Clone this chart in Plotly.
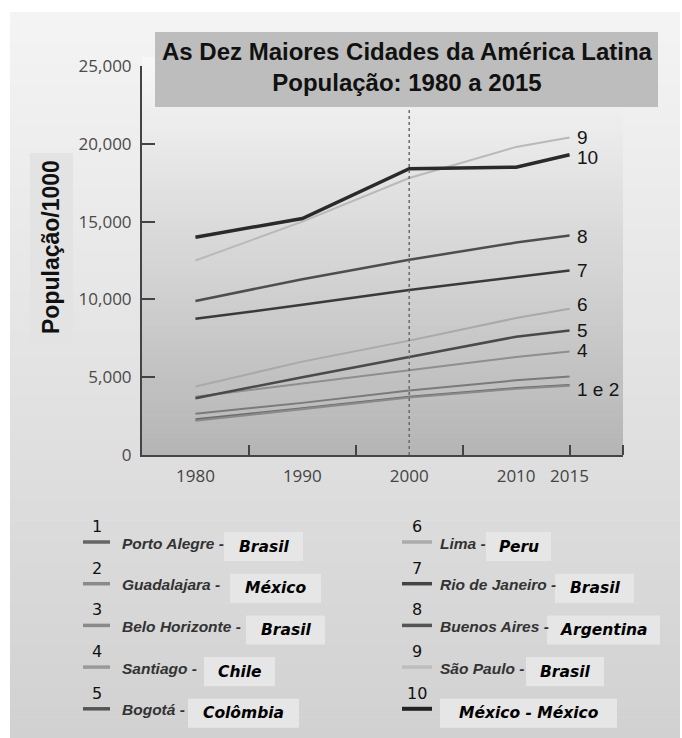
import plotly.graph_objects as go

# ---- data -------------------------------------------------------------
years = [1980, 1990, 2000, 2010, 2015]

porto_alegre   = [2300, 3000, 3750, 4300, 4500]
guadalajara    = [2200, 2950, 3700, 4250, 4450]
belo_horizonte = [2650, 3350, 4150, 4800, 5050]
santiago       = [3750, 4600, 5450, 6300, 6650]
bogota         = [3650, 5000, 6300, 7600, 8000]
lima           = [4400, 6000, 7350, 8800, 9400]
rio_de_janeiro = [8750, 9650, 10600, 11450, 11850]
buenos_aires   = [9900, 11300, 12550, 13650, 14100]
sao_paulo      = [12500, 15000, 17800, 19800, 20400]
cidade_mexico  = [14000, 15200, 18400, 18500, 19300]

cities = ["Porto Alegre", "Guadalajara", "Belo Horizonte", "Santiago", "Bogotá",
          "Lima", "Rio de Janeiro", "Buenos Aires", "São Paulo", "México"]
countries = ["Brasil", "México", "Brasil", "Chile", "Colômbia",
             "Peru", "Brasil", "Argentina", "Brasil", "México"]
series = [porto_alegre, guadalajara, belo_horizonte, santiago, bogota,
          lima, rio_de_janeiro, buenos_aires, sao_paulo, cidade_mexico]

x_labels = [1980, 1990, 2000, 2010, 2015]
x_ticks = [1985, 1995, 2005, 2015, 2020]
y_ticks = [0, 5000, 10000, 15000, 20000, 25000]

end_labels = ["9", "10", "8", "7", "6", "5", "4", "1 e 2"]
end_label_series = [8, 9, 7, 6, 5, 4, 3, 0]

# ---- styling ----------------------------------------------------------
line_colors = ["#6c6c6c", "#8a8a8a", "#7a7a7a", "#8e8e8e", "#4a4a4a",
               "#a9a9a9", "#3a3a3a", "#4e4e4e", "#b9b9b9", "#2a2a2a"]
line_widths = [2, 2, 2, 2, 2.5, 2, 2.5, 2.5, 2, 3.5]
key_colors = ["#666666", "#8a8a8a", "#8a8a8a", "#9a9a9a", "#555555",
              "#ababab", "#444444", "#555555", "#bdbdbd", "#222222"]
end_label_yshift = [0, -3, -1, 0, 4, 0, 1, -5]

# plot-area pixel frame
L, R, T, B = 142, 623, 66, 455
W, H = 682, 738


def fx(px):
    return (px - L) / (R - L)


def fy(py):
    return (B - py) / (B - T)


def hexmix(c0, c1, t):
    a = [int(c0[i:i + 2], 16) for i in (1, 3, 5)]
    b = [int(c1[i:i + 2], 16) for i in (1, 3, 5)]
    return "#" + "".join(f"{round(a[k] + (b[k] - a[k]) * t):02x}" for k in range(3))


def vgradient(x0, x1, y0, y1, ctop, cbot, n=60):
    out = []
    h = (y1 - y0) / n
    for i in range(n):
        out.append(dict(type="rect", xref="paper", yref="paper", layer="below",
                        x0=fx(x0), x1=fx(x1),
                        y0=fy(y0 + i * h), y1=fy(min(y1, y0 + (i + 1) * h + 0.6)),
                        fillcolor=hexmix(ctop, cbot, i / (n - 1)),
                        line=dict(width=0)))
    return out


fig = go.Figure()

for i, vals in enumerate(series):
    fig.add_trace(go.Scatter(x=years, y=vals, mode="lines", name=cities[i],
                             line=dict(color=line_colors[i], width=line_widths[i]),
                             showlegend=False, hoverinfo="x+y+name"))

shapes = []
# outer panel and plot-area backgrounds
shapes += vgradient(10, 680, 12, 738, "#f4f4f4", "#d1d1d1", 70)
shapes += vgradient(L, R, 57, B, "#f7f7f7", "#b5b5b5", 70)

# 2000 reference line
shapes.append(dict(type="line", xref="x", yref="paper", x0=2000, x1=2000,
                   y0=0, y1=1, line=dict(color="#6a6a6a", width=1.5, dash="dot")))

# title box
shapes.append(dict(type="rect", xref="paper", yref="paper", layer="above",
                   x0=fx(155), x1=fx(658), y0=fy(107), y1=fy(32),
                   fillcolor="#bdbdbd", line=dict(width=0)))
# y-title box
shapes.append(dict(type="rect", xref="paper", yref="paper", layer="below",
                   x0=fx(30), x1=fx(73), y0=fy(343), y1=fy(153),
                   fillcolor="#e3e3e3", line=dict(width=0)))

annotations = [
    dict(text="<b>As Dez Maiores Cidades da América Latina<br>População: 1980 a 2015</b>",
         xref="paper", yref="paper", x=fx(407), y=fy(67), showarrow=False,
         xanchor="center", yanchor="middle", align="center",
         font=dict(family="Liberation Sans Narrow, Liberation Sans, Arial", size=24, color="#111111")),
    dict(text="<b>População/1000</b>", xref="paper", yref="paper",
         x=fx(51), y=fy(247), showarrow=False, textangle=-90,
         xanchor="center", yanchor="middle",
         font=dict(family="Liberation Sans Narrow, Liberation Sans, Arial", size=23, color="#111111")),
]

# labels at the end of each line
for lab, si, dy in zip(end_labels, end_label_series, end_label_yshift):
    annotations.append(dict(text=lab, x=2015, y=series[si][-1], xref="x", yref="y",
                            showarrow=False, xanchor="left", yanchor="middle",
                            xshift=5, yshift=dy,
                            font=dict(family="Liberation Sans, Arial", size=19, color="#151515")))

# custom key
box_left = [224, 230, 246, 204, 188, 486, 555, 547, 526, 440]
box_width = [79, 91, 79, 71, 111, 65, 79, 113, 78, 177]
for i in range(10):
    col = i // 5
    row = i % 5
    ly = 542 + row * 41.7
    lx0, lx1 = (83, 110) if col == 0 else (402, 432)
    tx = 120 if col == 0 else 438
    shapes.append(dict(type="line", xref="paper", yref="paper",
                       x0=fx(lx0), x1=fx(lx1), y0=fy(ly), y1=fy(ly),
                       line=dict(color=key_colors[i], width=4 if i == 9 else 3.5)))
    annotations.append(dict(text=str(i + 1), xref="paper", yref="paper",
                            x=fx((lx0 + lx1) / 2), y=fy(ly - 4), showarrow=False,
                            xanchor="center", yanchor="bottom",
                            font=dict(family="DejaVu Sans", size=16, color="#111111")))
    shapes.append(dict(type="rect", xref="paper", yref="paper", layer="below",
                       x0=fx(box_left[i]), x1=fx(box_left[i] + box_width[i]),
                       y0=fy(ly + 19), y1=fy(ly - 10),
                       fillcolor="#e6e6e6", line=dict(width=0)))
    country_txt = countries[i]
    if i == 9:
        country_txt = f"{cities[i]} - {countries[i]}"
    else:
        annotations.append(dict(text=f"<b><i>{cities[i]} -</i></b>", xref="paper", yref="paper",
                                x=fx(tx), y=fy(ly + 1), showarrow=False,
                                xanchor="left", yanchor="middle",
                                font=dict(family="Liberation Sans Narrow, Liberation Sans, Arial",
                                          size=15.5, color="#333333")))
    annotations.append(dict(text=f"<b><i>{country_txt}</i></b>", xref="paper", yref="paper",
                            x=fx(box_left[i] + box_width[i] / 2), y=fy(ly + 4.5),
                            showarrow=False, xanchor="center", yanchor="middle",
                            font=dict(family="DejaVu Sans", size=15.5, color="#000000")))

fig.update_layout(
    width=W, height=H,
    margin=dict(l=L, r=W - R, t=T, b=H - B, pad=0),
    paper_bgcolor="#ffffff",
    plot_bgcolor="rgba(0,0,0,0)",
    shapes=shapes,
    annotations=annotations,
    showlegend=False,
    xaxis=dict(range=[1975, 2020], tickvals=x_labels, ticktext=[str(v) for v in x_labels],
               ticks="", showgrid=False, zeroline=False, showline=True,
               linecolor="#444444", linewidth=2, ticklabelstandoff=5,
               tickfont=dict(family="Open Sans, Lato, sans-serif", size=17, color="#444444"),
               minor=dict(tickvals=x_ticks, ticks="inside", ticklen=10, tickwidth=2,
                          tickcolor="#444444", showgrid=False)),
    yaxis=dict(range=[0, 25000], tickvals=y_ticks, tickformat=",", ticks="inside",
               ticklen=13, tickwidth=2, tickcolor="#444444", showgrid=False,
               zeroline=False, showline=True, linecolor="#444444", linewidth=2,
               ticklabelstandoff=5,
               tickfont=dict(family="Open Sans, Lato, sans-serif", size=17, color="#4a4a4a")),
)

fig.write_html("out.html")
